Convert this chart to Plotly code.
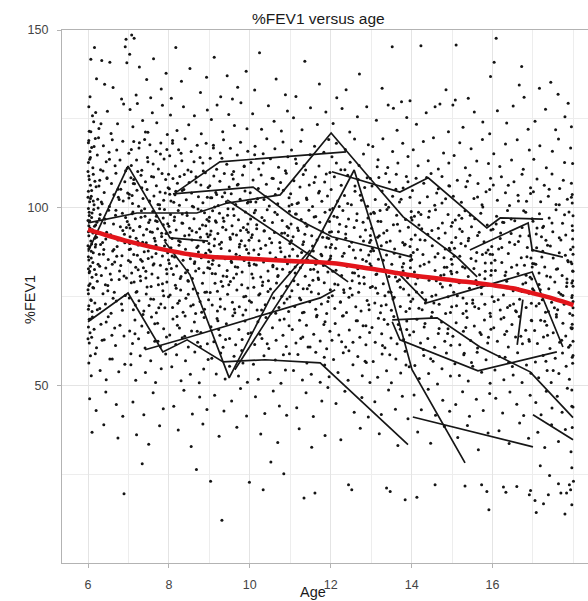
import plotly.graph_objects as go

# Clinic-visit %FEV1 observations (age in years, %FEV1), grouped by year of age
obs_06 = [
    (6.16,145.1),(6.94,147.4),(6.92,145.3),(6.07,141.8),(6.34,141.4),(6.54,140.9),(6.96,140.8),(6.21,136.3),
    (6.62,133.8),(6.05,131.2),(6.41,134.7),(6.83,130.6),
    (6.02,128.4),(6.11,125.9),(6.27,122.3),(6.48,127.1),(6.73,123.6),(6.88,129.2),(6.03,121.5),(6.19,126.8),
    (6.57,120.9),(6.14,124.2),
    (6.01,118.3),(6.04,113.6),(6.09,116.9),(6.12,111.2),(6.18,119.5),(6.23,114.8),(6.31,110.7),(6.38,117.4),
    (6.45,112.9),(6.52,115.6),(6.60,119.1),(6.67,111.8),(6.71,116.2),(6.79,113.4),(6.86,118.7),(6.93,110.4),(6.06,114.1),
    (6.01,104.6),(6.02,108.9),(6.04,101.7),(6.06,106.3),(6.08,103.2),(6.13,109.4),(6.15,100.8),(6.20,105.9),
    (6.24,102.4),(6.29,107.7),(6.35,101.1),(6.40,104.3),(6.47,108.2),(6.53,100.3),(6.58,106.8),(6.64,103.6),
    (6.69,109.7),(6.75,102.9),(6.81,105.2),(6.87,101.9),(6.91,107.3),(6.98,104.1),
    (6.00,96.4),(6.02,92.1),(6.03,98.7),(6.05,94.3),(6.07,90.6),(6.09,97.2),(6.11,93.8),(6.14,99.5),(6.17,91.4),
    (6.22,95.9),(6.26,92.7),(6.30,98.1),(6.36,90.2),(6.42,96.8),(6.46,93.1),(6.51,99.3),(6.56,91.9),(6.63,95.4),
    (6.68,97.9),(6.74,90.9),(6.80,94.6),(6.85,98.4),(6.90,92.5),(6.97,96.1),
    (6.01,86.2),(6.03,81.7),(6.04,88.9),(6.06,83.5),(6.08,85.8),(6.10,80.4),(6.13,87.3),(6.16,82.6),(6.19,89.6),
    (6.25,84.1),(6.28,86.9),(6.33,80.9),(6.39,88.2),(6.44,83.0),(6.50,85.4),(6.55,81.3),(6.61,87.8),(6.66,84.7),
    (6.72,89.1),(6.78,82.2),(6.84,86.5),(6.95,80.2),
    (6.00,76.9),(6.02,72.4),(6.05,78.6),(6.07,74.1),(6.10,70.8),(6.12,77.5),(6.17,73.2),(6.23,79.3),(6.29,71.6),
    (6.37,75.8),(6.43,72.9),(6.49,78.1),(6.57,70.3),(6.65,76.2),(6.70,73.7),(6.77,79.8),(6.85,71.1),(6.92,75.3),
    (6.01,66.4),(6.03,61.9),(6.06,68.7),(6.09,63.5),(6.15,65.8),(6.21,60.6),(6.32,67.2),(6.40,62.8),(6.50,69.3),
    (6.59,64.1),(6.68,61.2),(6.79,66.9),(6.89,63.9),
    (6.02,56.3),(6.08,52.7),(6.18,58.9),(6.30,54.2),(6.45,51.6),(6.60,57.4),(6.76,53.8),(6.91,55.9),
    (6.04,46.2),(6.20,42.9),(6.44,48.1),(6.70,44.6),(6.86,41.3),
    (6.10,36.8),(6.39,38.9),(6.74,35.2),(6.89,19.5),
    (6.00,110.2),(6.01,99.8),(6.00,89.3),(6.02,78.1),(6.01,71.4),(6.00,63.1),(6.02,118.9),(6.01,82.8),
    (6.00,102.9),(6.02,94.9),
    (6.03,97.8),(6.12,84.6),(6.27,106.1),(6.08,73.9),(6.44,91.2),(6.01,112.7),(6.19,95.1),(6.71,86.3),(6.05,64.8),
    (6.33,101.6),(6.58,79.7),(6.02,88.4),(6.15,117.2),(6.86,93.6),(6.11,69.2),(6.47,108.4),(6.04,82.1),(6.25,99.9),
    (6.62,74.5),(6.09,104.8),(6.38,86.9),(6.93,97.2),(6.06,58.3),(6.21,91.7),(6.53,113.6),(6.14,77.4),(6.77,102.3),
    (6.01,93.2),(6.29,83.5),(6.66,66.1),(6.07,121.4),(6.41,95.7),(6.18,88.9),(6.89,80.8),(6.03,107.9),(6.56,92.4),
    (6.23,71.3),(6.97,111.1),(6.10,98.5),(6.35,62.7),(6.02,85.3),(6.74,105.2),(6.16,94.8),(6.49,76.6),(6.05,115.8),
    (6.31,89.6),(6.83,72.9),(6.13,101.9),(6.60,84.1),(6.04,96.3),(6.26,119.7),(6.45,67.8),(6.08,87.7),(6.69,99.3),
    (6.20,81.2),(6.91,90.1),(6.01,75.8),(6.37,110.3),(6.12,92.9),(6.54,57.4),(6.06,102.6),(6.81,83.7),(6.28,96.9),
    (6.03,68.6),(6.64,88.2),(6.17,107.4),(6.43,78.3),(6.95,94.4),(6.09,89.8),(6.32,123.6),
]
obs_07 = [
    (7.08,148.6),(7.14,147.7),(7.03,143.2),(7.27,139.6),(7.45,136.1),(7.62,141.9),(7.81,133.4),(7.93,137.8),
    (7.19,131.7),(7.55,130.9),
    (7.04,127.6),(7.11,122.8),(7.22,129.3),(7.35,124.5),(7.48,121.2),(7.59,126.7),(7.70,123.9),(7.84,128.8),(7.96,120.6),
    (7.01,115.3),(7.07,111.9),(7.13,118.6),(7.20,113.4),(7.26,116.8),(7.33,110.5),(7.40,119.2),(7.47,114.1),
    (7.53,117.7),(7.61,112.3),(7.68,115.9),(7.74,110.9),(7.80,118.2),(7.88,113.7),(7.95,116.4),
    (7.02,103.8),(7.06,108.4),(7.10,101.2),(7.15,106.7),(7.21,104.9),(7.25,100.4),(7.31,109.1),(7.36,102.6),
    (7.42,107.3),(7.46,105.1),(7.52,101.8),(7.57,108.8),(7.63,103.3),(7.69,106.2),(7.73,100.9),(7.78,104.4),
    (7.83,109.6),(7.87,102.1),(7.92,107.9),(7.98,105.6),
    (7.01,95.2),(7.04,91.8),(7.09,98.3),(7.12,93.6),(7.17,96.9),(7.23,90.5),(7.28,94.7),(7.32,99.1),(7.37,92.3),
    (7.41,97.6),(7.44,90.1),(7.50,95.8),(7.54,93.2),(7.60,98.9),(7.64,91.4),(7.67,96.3),(7.72,94.1),(7.77,99.7),
    (7.82,92.8),(7.86,97.1),(7.91,90.8),(7.97,95.5),
    (7.00,85.1),(7.05,88.4),(7.08,81.6),(7.13,86.8),(7.18,83.2),(7.24,89.5),(7.29,80.7),(7.34,84.9),(7.39,87.6),
    (7.43,82.1),(7.49,85.7),(7.53,88.9),(7.58,81.3),(7.63,84.2),(7.68,87.1),(7.73,80.3),(7.79,83.8),(7.84,86.4),
    (7.89,89.2),(7.94,82.7),(7.99,85.3),
    (7.02,74.6),(7.07,78.9),(7.12,71.3),(7.19,76.2),(7.26,73.8),(7.30,79.4),(7.38,70.9),(7.44,75.7),(7.51,72.5),
    (7.56,77.8),(7.62,74.2),(7.69,70.4),(7.74,78.3),(7.80,72.9),(7.85,76.6),(7.90,71.8),(7.95,79.1),(7.99,74.9),
    (7.03,65.3),(7.10,61.8),(7.16,68.4),(7.25,63.1),(7.33,66.7),(7.41,60.5),(7.49,64.9),(7.57,69.2),(7.65,62.4),
    (7.72,67.5),(7.79,60.9),(7.87,65.9),(7.94,63.6),
    (7.06,55.8),(7.18,51.4),(7.29,58.3),(7.42,53.6),(7.55,56.9),(7.67,50.8),(7.81,54.7),(7.92,58.8),
    (7.11,45.3),(7.38,41.7),(7.61,47.9),(7.86,43.4),
    (7.20,36.1),(7.50,33.4),(7.77,38.6),(7.34,27.9),
    (7.04,94.3),(7.37,83.1),(7.12,106.8),(7.66,90.6),(7.21,76.4),(7.89,99.5),(7.02,88.2),(7.48,112.9),(7.31,97.3),
    (7.75,71.8),(7.09,103.4),(7.58,86.1),(7.16,64.5),(7.93,92.7),(7.43,80.2),(7.27,118.3),(7.71,96.1),(7.05,84.7),
    (7.52,101.9),(7.84,78.6),(7.19,91.4),(7.62,108.6),(7.36,69.9),(7.97,87.3),(7.11,98.8),(7.45,93.9),(7.79,115.1),
    (7.24,82.5),(7.55,74.3),(7.01,102.7),(7.68,89.4),(7.33,105.6),(7.86,95.2),(7.14,79.1),(7.49,87.8),(7.73,62.4),
    (7.28,94.6),(7.91,104.1),(7.07,116.4),(7.61,83.9),(7.40,99.7),(7.82,91.9),(7.17,72.6),(7.53,96.5),(7.95,81.4),
    (7.23,110.2),(7.65,67.3),(7.03,89.9),(7.46,77.7),(7.77,100.8),(7.30,85.4),(7.59,93.1),(7.13,107.9),(7.87,75.2),
    (7.42,121.3),(7.69,97.6),(7.06,58.9),(7.35,90.3),(7.99,109.4),(7.22,86.6),
]
obs_08 = [
    (8.17,145.1),(8.52,139.2),(8.31,135.6),(8.78,132.4),(8.06,130.8),(8.93,136.7),
    (8.04,126.1),(8.20,121.7),(8.36,128.4),(8.49,123.3),(8.63,125.9),(8.80,120.8),(8.95,127.5),
    (8.02,114.6),(8.09,118.9),(8.16,111.7),(8.24,116.3),(8.32,113.2),(8.40,119.4),(8.47,110.6),(8.55,115.8),
    (8.62,112.9),(8.70,117.6),(8.77,114.1),(8.85,110.3),(8.92,118.1),
    (8.01,105.3),(8.05,101.9),(8.10,108.2),(8.15,103.6),(8.21,106.9),(8.26,100.7),(8.33,104.8),(8.38,109.3),
    (8.43,102.2),(8.50,107.1),(8.56,104.1),(8.61,100.2),(8.67,108.7),(8.73,103.1),(8.79,106.4),(8.84,101.4),
    (8.90,109.8),(8.97,105.7),
    (8.00,94.8),(8.04,98.1),(8.08,91.3),(8.13,96.4),(8.18,93.7),(8.23,99.2),(8.28,90.4),(8.34,95.6),(8.39,92.1),
    (8.45,97.8),(8.51,94.2),(8.57,90.9),(8.62,96.9),(8.68,93.1),(8.72,99.6),(8.78,91.7),(8.83,95.1),(8.88,98.6),
    (8.94,92.6),(8.99,96.2),
    (8.01,84.3),(8.06,87.9),(8.11,81.2),(8.14,86.1),(8.19,83.6),(8.25,89.4),(8.30,80.6),(8.35,85.2),(8.41,88.3),
    (8.46,82.4),(8.52,86.7),(8.58,80.1),(8.64,84.8),(8.69,88.8),(8.74,82.9),(8.80,85.9),(8.86,81.7),(8.91,87.2),
    (8.96,83.1),(8.99,89.9),
    (8.03,75.4),(8.09,71.9),(8.16,78.2),(8.22,73.1),(8.29,76.8),(8.35,70.6),(8.42,74.5),(8.48,79.3),(8.54,72.3),
    (8.60,77.1),(8.66,70.2),(8.71,75.9),(8.77,73.6),(8.83,78.7),(8.88,71.4),(8.93,76.3),(8.98,74.1),
    (8.02,64.2),(8.10,68.7),(8.17,61.5),(8.26,66.1),(8.33,63.4),(8.40,69.5),(8.48,60.8),(8.56,65.3),(8.63,67.8),
    (8.71,62.1),(8.79,64.9),(8.87,69.1),(8.95,61.7),
    (8.07,55.2),(8.19,58.6),(8.30,51.3),(8.41,56.9),(8.53,53.1),(8.64,59.4),(8.75,50.7),(8.86,54.6),(8.97,57.3),
    (8.12,44.1),(8.37,48.6),(8.58,41.9),(8.76,46.7),(8.94,43.2),
    (8.23,37.4),(8.55,32.8),(8.84,39.1),(8.68,26.3),
    (8.03,93.1),(8.41,81.7),(8.17,104.6),(8.72,89.2),(8.26,73.8),(8.94,96.7),(8.08,86.4),(8.55,110.1),(8.33,98.2),
    (8.81,70.6),(8.12,101.5),(8.63,84.3),(8.21,66.9),(8.97,91.8),(8.47,79.5),(8.30,115.3),(8.76,94.1),(8.06,82.9),
    (8.58,100.4),(8.89,76.2),(8.24,90.7),(8.67,107.2),(8.39,63.8),(8.99,88.1),(8.14,97.4),(8.50,92.3),(8.84,112.6),
    (8.28,80.1),(8.60,72.7),(8.02,103.8),(8.73,87.5),(8.37,105.1),(8.91,94.9),(8.18,77.3),(8.53,85.6),(8.78,60.9),
    (8.32,95.7),(8.95,102.9),(8.09,118.1),(8.66,82.2),(8.44,98.6),(8.86,90.4),(8.20,69.4),(8.57,93.5),(8.98,84.8),
    (8.27,108.8),(8.70,65.2),(8.05,88.7),(8.48,75.6),(8.80,99.1),
]
obs_09 = [
    (9.12,142.3),(9.44,137.1),(9.70,133.9),(9.28,131.2),(9.91,138.4),(9.57,130.6),
    (9.05,124.8),(9.19,128.9),(9.33,121.4),(9.48,126.2),(9.62,123.1),(9.78,129.5),(9.93,122.2),
    (9.02,113.9),(9.10,117.6),(9.18,110.8),(9.27,115.4),(9.35,119.1),(9.43,112.2),(9.52,116.7),(9.60,110.2),
    (9.69,114.8),(9.77,118.4),(9.86,111.6),(9.95,115.9),
    (9.01,106.2),(9.06,102.8),(9.11,108.9),(9.16,104.3),(9.22,100.6),(9.26,107.4),(9.32,103.1),(9.37,109.6),
    (9.42,101.7),(9.49,105.8),(9.54,103.9),(9.59,108.1),(9.65,100.9),(9.71,106.6),(9.76,102.4),(9.82,109.2),
    (9.88,104.7),(9.94,101.3),
    (9.00,97.3),(9.04,93.4),(9.08,99.1),(9.13,91.2),(9.17,95.9),(9.21,92.7),(9.25,98.4),(9.30,90.3),(9.36,96.2),
    (9.41,93.8),(9.46,99.7),(9.51,91.6),(9.56,94.9),(9.61,97.8),(9.67,92.3),(9.72,96.6),(9.79,90.7),(9.84,94.4),
    (9.89,98.8),(9.96,93.1),
    (9.01,82.9),(9.03,87.6),(9.07,84.1),(9.12,89.3),(9.15,81.4),(9.20,86.2),(9.24,83.7),(9.29,88.5),(9.34,80.8),
    (9.39,85.6),(9.44,82.3),(9.50,87.9),(9.55,84.6),(9.60,80.2),(9.66,86.9),(9.70,83.2),(9.75,89.7),(9.81,81.9),
    (9.86,85.1),(9.92,88.2),(9.98,84.4),
    (9.02,76.1),(9.07,72.6),(9.14,78.7),(9.20,70.9),(9.27,74.3),(9.33,77.9),(9.38,71.5),(9.45,75.6),(9.52,79.2),
    (9.57,73.4),(9.63,70.4),(9.68,76.8),(9.74,72.1),(9.80,78.3),(9.85,74.9),(9.90,71.2),(9.95,77.4),(9.99,73.8),
    (9.04,66.5),(9.11,62.3),(9.19,68.8),(9.26,64.1),(9.34,60.7),(9.42,67.3),(9.50,63.2),(9.58,69.6),(9.65,61.4),
    (9.73,65.7),(9.81,62.9),(9.88,68.1),(9.96,64.6),
    (9.06,57.6),(9.17,53.2),(9.28,59.1),(9.39,51.8),(9.50,55.4),(9.61,58.2),(9.72,52.6),(9.83,56.3),(9.94,50.9),
    (9.13,47.2),(9.36,42.8),(9.55,45.6),(9.77,49.1),(9.92,41.4),
    (9.24,35.7),(9.68,38.2),(9.03,23.0),(9.99,22.7),(9.31,12.0),
    (9.02,92.4),(9.43,80.6),(9.18,103.7),(9.74,88.9),(9.27,72.1),(9.95,95.4),(9.09,85.2),(9.56,109.3),(9.34,97.1),
    (9.83,69.8),(9.13,100.2),(9.64,83.4),(9.23,65.7),(9.98,90.8),(9.48,78.3),(9.31,113.9),(9.77,93.6),(9.07,81.5),
    (9.59,99.6),(9.90,75.1),(9.25,89.7),(9.69,106.4),(9.40,62.9),(9.97,87.2),(9.15,96.3),(9.52,91.1),(9.86,111.7),
    (9.29,79.2),(9.62,71.4),(9.03,102.8),(9.75,86.3),(9.38,104.2),(9.92,93.8),(9.20,76.5),(9.54,84.9),(9.80,59.8),
    (9.33,94.5),(9.96,101.6),(9.10,116.8),(9.67,81.3),(9.45,97.9),(9.88,89.3),(9.21,68.2),(9.58,92.6),(9.99,83.7),
]
obs_10 = [
    (10.24,143.6),(10.65,136.2),(10.88,131.8),(10.12,133.1),
    (10.07,126.4),(10.29,122.1),(10.46,128.7),(10.60,124.3),(10.78,121.6),(10.93,127.2),
    (10.03,112.7),(10.13,117.3),(10.22,110.9),(10.33,115.2),(10.42,119.4),(10.51,113.8),(10.62,116.6),
    (10.71,111.4),(10.82,118.5),(10.94,114.3),
    (10.01,104.2),(10.08,107.8),(10.15,101.6),(10.21,105.4),(10.28,109.2),(10.35,102.3),(10.41,106.6),
    (10.48,100.5),(10.55,108.3),(10.63,103.7),(10.69,101.1),(10.76,107.1),(10.83,104.9),(10.90,109.7),(10.97,102.8),
    (10.02,96.8),(10.06,92.4),(10.11,98.6),(10.17,94.1),(10.23,90.7),(10.30,97.2),(10.36,93.5),(10.43,99.4),
    (10.49,91.3),(10.56,95.8),(10.61,93.0),(10.68,98.1),(10.74,90.2),(10.80,96.4),(10.86,92.9),(10.92,94.7),(10.98,99.0),
    (10.00,85.6),(10.05,81.3),(10.10,88.1),(10.16,83.9),(10.22,86.8),(10.27,80.5),(10.34,84.7),(10.39,89.4),
    (10.45,82.2),(10.50,87.3),(10.57,83.4),(10.64,85.9),(10.70,80.9),(10.75,88.7),(10.81,82.7),(10.87,86.1),
    (10.93,84.2),(10.99,81.8),
    (10.04,73.4),(10.10,77.6),(10.18,71.2),(10.25,75.8),(10.32,79.1),(10.38,72.7),(10.45,76.4),(10.52,70.3),
    (10.59,74.6),(10.66,78.8),(10.72,71.9),(10.79,75.1),(10.85,73.2),(10.91,77.9),(10.96,70.8),(10.99,74.9),
    (10.03,64.8),(10.12,61.5),(10.20,67.9),(10.30,63.2),(10.40,69.1),(10.47,60.4),(10.56,66.2),(10.65,62.7),
    (10.74,68.4),(10.82,64.1),(10.90,60.9),(10.97,66.8),
    (10.09,55.9),(10.21,51.7),(10.35,58.3),(10.50,53.6),(10.63,57.1),(10.77,50.6),(10.88,54.3),(10.98,58.9),
    (10.14,46.8),(10.37,42.1),(10.58,48.4),(10.73,44.2),(10.91,41.6),
    (10.27,36.3),(10.69,33.9),(10.33,20.6),(10.52,28.4),(10.84,25.1),
    (10.04,91.6),(10.46,79.4),(10.19,102.5),(10.77,87.6),(10.29,71.2),(10.96,94.3),(10.11,84.1),(10.58,108.2),
    (10.36,96.4),(10.85,68.7),(10.14,99.3),(10.67,82.8),(10.25,64.4),(10.99,89.9),(10.51,77.1),(10.33,112.6),
    (10.79,92.8),(10.08,80.2),(10.62,98.7),(10.92,74.3),(10.27,88.5),(10.71,105.3),(10.43,61.7),(10.98,86.4),
    (10.17,95.2),(10.54,90.1),(10.88,110.4),(10.31,78.1),(10.64,70.3),(10.02,101.7),(10.76,85.2),(10.40,103.1),
    (10.94,92.2),(10.22,75.4),(10.57,83.8),(10.83,58.6),(10.35,93.4),(10.97,100.5),(10.12,114.9),(10.69,80.6),
]
obs_11 = [
    (11.36,141.2),(11.72,134.8),(11.14,131.3),
    (11.08,125.3),(11.29,121.9),(11.50,128.1),(11.67,123.4),(11.88,126.9),
    (11.03,116.2),(11.15,112.4),(11.26,118.7),(11.38,110.6),(11.49,114.9),(11.60,117.3),(11.71,111.7),
    (11.83,115.6),(11.95,119.2),
    (11.01,103.9),(11.09,107.6),(11.17,101.2),(11.24,105.8),(11.32,109.3),(11.40,102.7),(11.47,106.4),
    (11.55,100.3),(11.62,108.6),(11.70,104.1),(11.78,101.8),(11.85,107.2),(11.92,103.3),(11.98,109.9),
    (11.02,95.4),(11.07,91.8),(11.13,98.2),(11.20,93.6),(11.27,96.7),(11.33,90.4),(11.41,94.8),(11.46,99.3),
    (11.53,92.1),(11.59,97.4),(11.66,90.9),(11.73,95.9),(11.80,93.2),(11.86,98.7),(11.91,91.5),(11.97,96.1),
    (11.00,84.8),(11.06,88.3),(11.12,81.6),(11.18,86.4),(11.25,83.1),(11.31,89.6),(11.37,80.7),(11.43,85.3),
    (11.50,82.6),(11.57,87.8),(11.63,84.1),(11.69,80.2),(11.76,86.9),(11.82,83.7),(11.88,88.9),(11.93,81.9),(11.99,85.7),
    (11.04,76.6),(11.11,72.2),(11.19,78.4),(11.26,74.1),(11.34,70.6),(11.42,77.2),(11.48,73.5),(11.56,79.6),
    (11.63,71.4),(11.70,75.8),(11.77,72.9),(11.84,78.9),(11.90,70.2),(11.95,74.7),(11.99,76.9),
    (11.05,65.7),(11.14,61.9),(11.23,68.3),(11.31,63.6),(11.40,66.9),(11.49,60.8),(11.58,64.4),(11.66,69.7),
    (11.74,62.5),(11.83,67.1),(11.90,60.3),(11.98,65.2),
    (11.08,54.2),(11.19,58.7),(11.30,51.5),(11.41,56.3),(11.52,53.1),(11.63,59.3),(11.74,50.9),(11.85,55.7),(11.96,52.4),
    (11.16,43.7),(11.39,47.9),(11.57,41.2),(11.78,45.6),(11.93,49.4),
    (11.22,37.8),(11.53,32.6),(11.86,35.9),(11.34,18.3),(11.61,19.7),
    (11.03,90.7),(11.47,78.2),(11.20,101.4),(11.78,86.5),(11.30,70.4),(11.97,93.1),(11.12,83.3),(11.59,107.1),
    (11.37,95.6),(11.86,67.9),(11.15,98.2),(11.68,81.9),(11.26,63.2),(11.99,88.8),(11.52,76.3),(11.34,111.8),
    (11.80,91.7),(11.09,79.4),(11.63,97.5),(11.93,73.6),(11.28,87.4),(11.72,104.6),(11.44,60.8),(11.96,85.1),
    (11.18,94.3),(11.55,89.2),(11.89,109.5),(11.32,77.2),(11.65,69.3),(11.04,100.9),(11.77,84.4),(11.41,102.3),
    (11.95,91.3),(11.23,74.6),(11.58,82.7),(11.84,57.9),(11.36,92.5),(11.98,99.4),(11.13,113.7),(11.70,79.8),
]
obs_12 = [
    (12.38,133.2),(12.71,137.6),(12.15,130.9),
    (12.06,123.7),(12.28,127.9),(12.47,121.3),(12.66,125.6),(12.89,128.4),
    (12.03,114.3),(12.14,118.1),(12.25,110.7),(12.36,116.4),(12.48,112.8),(12.59,119.3),(12.70,111.9),
    (12.81,115.1),(12.93,117.7),
    (12.01,105.1),(12.09,108.7),(12.17,101.9),(12.26,106.3),(12.34,103.4),(12.42,109.1),(12.51,100.8),
    (12.60,104.6),(12.68,107.9),(12.76,102.1),(12.84,105.7),(12.91,100.4),(12.98,108.2),
    (12.02,93.2),(12.08,97.6),(12.15,91.1),(12.22,95.3),(12.30,99.2),(12.37,92.6),(12.44,96.8),(12.52,90.3),
    (12.58,94.4),(12.65,98.3),(12.73,91.8),(12.80,95.9),(12.86,93.7),(12.92,97.1),(12.99,90.8),
    (12.00,86.4),(12.05,82.1),(12.12,88.6),(12.19,84.3),(12.27,80.9),(12.33,87.2),(12.40,83.5),(12.46,89.1),
    (12.54,81.7),(12.61,85.8),(12.67,82.8),(12.74,88.1),(12.82,80.4),(12.88,84.9),(12.94,86.7),(12.99,83.2),
    (12.04,75.2),(12.10,71.6),(12.18,78.3),(12.24,73.4),(12.32,76.9),(12.39,70.5),(12.45,74.8),(12.53,79.4),
    (12.62,72.1),(12.69,76.2),(12.75,70.9),(12.83,78.6),(12.90,73.9),(12.95,71.3),(12.98,77.5),
    (12.03,62.7),(12.11,67.4),(12.20,64.2),(12.29,69.5),(12.37,60.8),(12.46,65.6),(12.55,62.1),(12.63,68.2),
    (12.72,63.5),(12.80,66.8),(12.87,61.4),(12.96,64.9),
    (12.07,57.3),(12.18,53.6),(12.31,59.2),(12.43,51.4),(12.55,55.8),(12.67,58.1),(12.78,52.7),(12.88,56.4),(12.97,50.8),
    (12.13,44.9),(12.35,48.3),(12.58,42.4),(12.77,46.6),(12.93,41.1),
    (12.25,34.7),(12.73,37.9),(12.44,22.0),(12.52,20.6),
    (12.02,89.6),(12.48,77.3),(12.21,100.3),(12.79,85.4),(12.31,69.6),(12.98,92.2),(12.13,82.4),(12.60,106.1),
    (12.38,94.7),(12.87,66.8),(12.16,97.3),(12.69,80.8),(12.27,62.3),(12.99,87.7),(12.53,75.4),(12.35,110.7),
    (12.81,90.6),(12.10,78.5),(12.64,96.4),(12.94,72.7),(12.29,86.3),(12.73,103.5),(12.45,59.7),(12.97,84.2),
    (12.19,93.2),(12.56,88.1),(12.90,108.4),(12.33,76.1),(12.66,68.2),(12.05,99.8),(12.78,83.3),(12.42,101.2),
    (12.96,90.2),(12.24,73.5),(12.59,81.6),(12.85,56.8),(12.37,91.4),(12.99,98.3),(12.14,112.6),(12.71,78.7),
]
obs_13 = [
    (13.52,145.3),(13.27,133.6),
    (13.42,128.9),(13.55,128.0),(13.75,129.8),(13.96,130.1),(13.13,124.6),(13.64,121.8),(13.88,125.4),
    (13.04,117.2),(13.17,113.5),(13.29,119.4),(13.41,111.3),(13.53,115.8),(13.66,112.6),(13.78,118.1),(13.91,114.4),
    (13.02,106.1),(13.10,102.3),(13.19,108.5),(13.27,104.7),(13.36,100.9),(13.45,107.2),(13.53,103.2),
    (13.62,109.4),(13.70,101.6),(13.79,105.5),(13.87,108.8),(13.96,102.9),
    (13.01,94.2),(13.08,98.4),(13.16,91.7),(13.24,96.1),(13.31,92.9),(13.39,99.5),(13.47,90.6),(13.55,95.2),
    (13.63,97.9),(13.71,93.4),(13.78,90.2),(13.85,96.7),(13.92,94.5),(13.99,98.9),
    (13.00,83.6),(13.06,87.9),(13.12,81.2),(13.18,85.5),(13.25,89.3),(13.32,82.4),(13.38,86.7),(13.44,80.6),
    (13.51,84.1),(13.58,88.4),(13.64,81.8),(13.71,86.2),(13.77,83.3),(13.84,89.7),(13.90,80.3),(13.97,85.1),
    (13.03,77.8),(13.09,73.2),(13.16,75.9),(13.23,70.4),(13.30,78.6),(13.37,72.7),(13.43,76.3),(13.50,71.1),
    (13.57,74.8),(13.65,79.3),(13.72,72.2),(13.80,77.1),(13.86,70.8),(13.93,75.4),(13.98,73.6),
    (13.02,66.3),(13.10,62.1),(13.18,68.9),(13.26,64.5),(13.34,60.6),(13.41,67.2),(13.49,63.3),(13.56,69.4),
    (13.64,61.7),(13.72,65.8),(13.80,62.9),(13.88,68.1),(13.95,64.2),
    (13.05,56.7),(13.16,52.3),(13.27,58.8),(13.38,54.1),(13.50,50.7),(13.61,57.4),(13.73,53.5),(13.84,59.6),(13.94,55.2),
    (13.09,45.4),(13.25,41.8),(13.43,48.7),(13.60,43.3),(13.77,46.9),(13.91,40.6),
    (13.20,36.4),(13.66,33.1),(13.38,21.1),(13.47,20.1),(13.84,17.8),
    (13.03,88.5),(13.49,76.2),(13.22,99.2),(13.80,84.3),(13.32,68.5),(13.99,91.1),(13.14,81.3),(13.61,105.2),
    (13.39,93.6),(13.88,65.7),(13.17,96.2),(13.70,79.7),(13.28,61.2),(13.98,86.6),(13.54,74.3),(13.36,109.6),
    (13.82,89.5),(13.11,77.4),(13.65,95.3),(13.95,71.6),(13.30,85.2),(13.74,102.4),(13.46,58.6),(13.97,83.1),
    (13.20,92.1),(13.57,87.2),(13.91,107.3),(13.34,75.2),(13.67,67.1),(13.06,98.7),(13.79,82.2),(13.43,100.1),
    (13.96,89.1),(13.25,72.4),(13.60,80.5),(13.86,55.7),(13.38,90.3),(13.99,97.2),(13.15,111.5),(13.72,77.6),
]
obs_14 = [
    (14.23,145.6),(14.85,133.2),
    (14.58,128.4),(14.70,129.2),(14.12,123.5),(14.36,126.7),(14.91,121.4),
    (14.04,116.3),(14.16,111.8),(14.29,118.6),(14.41,113.2),(14.54,119.7),(14.66,110.9),(14.79,115.4),(14.92,112.6),
    (14.02,104.8),(14.11,108.3),(14.20,101.4),(14.30,106.9),(14.39,103.1),(14.48,109.6),(14.57,100.7),
    (14.66,105.3),(14.75,108.8),(14.84,102.5),(14.94,106.1),
    (14.01,96.5),(14.09,92.3),(14.17,98.7),(14.25,94.1),(14.33,90.8),(14.42,97.3),(14.50,93.6),(14.59,99.4),
    (14.67,91.4),(14.76,95.7),(14.83,92.9),(14.90,98.1),(14.98,94.8),
    (14.00,85.4),(14.07,81.9),(14.14,88.2),(14.21,83.6),(14.28,86.8),(14.35,80.5),(14.43,84.7),(14.51,89.3),
    (14.58,82.3),(14.65,87.1),(14.72,80.9),(14.80,85.9),(14.87,83.2),(14.93,88.6),(14.99,81.4),
    (14.03,74.3),(14.10,78.5),(14.18,71.7),(14.26,76.1),(14.34,73.2),(14.43,79.6),(14.51,70.6),(14.60,75.4),
    (14.68,72.8),(14.76,77.7),(14.84,70.2),(14.90,74.9),(14.96,78.2),(14.99,72.1),
    (14.05,65.1),(14.13,68.6),(14.22,61.9),(14.31,66.4),(14.40,63.2),(14.49,69.3),(14.57,60.7),(14.66,64.6),
    (14.74,67.8),(14.82,62.4),(14.90,65.9),(14.97,61.3),
    (14.08,55.6),(14.19,51.9),(14.30,58.4),(14.42,53.3),(14.53,56.8),(14.64,50.4),(14.75,54.7),(14.86,59.1),(14.96,52.6),
    (14.06,47.3),(14.24,43.1),(14.41,48.9),(14.59,41.6),(14.77,45.8),(14.94,42.7),
    (14.15,36.9),(14.47,33.7),(14.81,38.4),(14.58,22.0),(14.13,18.5),
    (14.04,87.4),(14.50,75.1),(14.23,98.1),(14.81,83.2),(14.33,67.4),(14.99,90.2),(14.15,80.2),(14.62,104.1),
    (14.40,92.5),(14.89,64.6),(14.18,95.1),(14.71,78.6),(14.29,60.1),(14.98,85.5),(14.55,73.2),(14.37,108.5),
    (14.83,88.4),(14.12,76.3),(14.66,94.2),(14.96,70.5),(14.31,84.1),(14.75,101.3),(14.47,57.5),(14.97,82.1),
    (14.21,91.0),(14.58,86.1),(14.92,106.2),(14.35,74.1),(14.68,66.0),(14.07,97.6),(14.80,81.1),(14.44,99.0),
    (14.95,88.0),(14.26,71.3),(14.61,79.4),
]
obs_15 = [
    (15.10,145.8),(15.40,130.8),(15.08,130.3),(15.95,136.9),
    (15.02,128.9),(15.55,126.9),(15.27,122.6),(15.76,124.1),(15.93,120.8),
    (15.05,114.7),(15.19,118.3),(15.33,111.2),(15.47,116.6),(15.61,113.1),(15.75,119.2),(15.90,112.4),
    (15.03,103.2),(15.13,107.7),(15.23,101.5),(15.34,105.9),(15.44,109.1),(15.54,102.6),(15.64,106.8),
    (15.74,100.8),(15.84,104.5),(15.95,108.3),
    (15.01,95.8),(15.09,91.6),(15.17,97.9),(15.25,93.3),(15.32,99.1),(15.40,90.7),(15.48,94.6),(15.56,96.9),
    (15.63,92.2),(15.71,98.4),(15.79,90.4),(15.87,95.1),(15.96,93.7),
    (15.00,84.1),(15.06,88.6),(15.12,81.8),(15.19,86.3),(15.26,83.4),(15.33,89.2),(15.40,80.6),(15.47,85.7),
    (15.54,82.9),(15.61,87.4),(15.68,81.1),(15.75,86.8),(15.82,84.4),(15.89,88.1),(15.97,82.3),
    (15.04,76.2),(15.11,72.4),(15.18,78.9),(15.27,74.6),(15.35,70.9),(15.43,77.3),(15.51,73.1),(15.59,79.5),
    (15.66,71.6),(15.73,75.7),(15.81,72.8),(15.88,78.2),(15.94,70.3),(15.99,74.9),
    (15.02,63.8),(15.10,67.6),(15.19,61.4),(15.28,65.2),(15.37,69.1),(15.46,62.6),(15.55,66.7),(15.63,60.5),
    (15.72,64.3),(15.80,68.4),(15.88,61.9),(15.96,65.8),
    (15.07,56.1),(15.18,52.8),(15.29,58.6),(15.40,51.2),(15.51,55.4),(15.62,59.3),(15.73,53.7),(15.84,57.2),(15.94,50.6),
    (15.09,44.6),(15.26,48.2),(15.43,41.3),(15.60,46.1),(15.77,42.9),(15.93,47.7),
    (15.14,35.3),(15.38,38.7),(15.65,31.9),(15.89,36.6),
    (15.32,21.7),(15.73,22.0),(15.86,20.1),(15.91,15.0),
    (15.05,86.3),(15.51,74.0),(15.24,97.0),(15.82,82.1),(15.34,66.3),(15.98,89.1),(15.16,79.1),(15.63,103.0),
    (15.41,91.4),(15.90,63.5),(15.19,94.0),(15.72,77.5),(15.30,59.0),(15.97,84.4),(15.56,72.1),(15.38,107.4),
    (15.84,87.3),(15.13,75.2),(15.67,93.1),(15.95,69.4),(15.32,83.0),(15.76,100.2),(15.48,56.4),(15.96,81.0),
    (15.22,89.9),(15.59,85.0),(15.93,105.1),(15.36,73.0),(15.69,64.9),(15.08,96.5),(15.81,80.0),(15.45,97.9),
    (15.94,86.9),(15.27,70.2),(15.62,78.3),
]
obs_16 = [
    (16.09,147.7),(16.04,140.9),(16.72,139.7),(16.66,134.5),(16.78,131.1),
    (16.12,127.3),(16.35,123.8),(16.51,128.6),(16.88,122.1),
    (16.03,115.2),(16.18,111.6),(16.32,117.9),(16.47,113.4),(16.61,119.1),(16.76,110.8),(16.91,116.2),
    (16.02,106.4),(16.12,102.1),(16.22,108.7),(16.32,104.2),(16.42,100.6),(16.53,107.3),(16.63,103.5),
    (16.73,109.4),(16.84,101.8),(16.94,105.6),
    (16.01,93.9),(16.10,97.6),(16.19,91.3),(16.28,95.8),(16.37,99.2),(16.46,92.7),(16.55,96.3),(16.64,90.5),
    (16.73,94.4),(16.82,98.7),(16.90,92.1),(16.98,96.9),
    (16.00,86.8),(16.07,82.3),(16.15,88.4),(16.23,84.6),(16.31,80.9),(16.39,87.1),(16.47,83.2),(16.55,89.6),
    (16.63,81.5),(16.71,85.9),(16.79,83.8),(16.86,88.8),(16.93,80.4),(16.99,84.3),
    (16.04,73.6),(16.11,77.8),(16.19,71.2),(16.27,75.4),(16.35,79.3),(16.43,72.5),(16.51,76.6),(16.59,70.7),
    (16.67,74.2),(16.75,78.5),(16.83,71.9),(16.90,75.9),(16.96,73.1),(16.99,77.2),
    (16.03,66.2),(16.12,62.4),(16.21,68.7),(16.30,64.3),(16.39,60.8),(16.48,67.1),(16.57,63.6),(16.66,69.4),
    (16.74,61.7),(16.82,65.5),(16.90,62.9),(16.97,68.2),
    (16.06,54.3),(16.17,58.1),(16.28,51.6),(16.40,56.4),(16.51,52.9),(16.62,59.2),(16.73,50.8),(16.84,55.7),(16.95,53.4),
    (16.08,46.4),(16.25,42.2),(16.43,48.1),(16.60,44.7),(16.77,41.5),(16.93,47.2),
    (16.16,37.2),(16.41,33.6),(16.67,39.4),(16.89,35.1),
    (16.27,21.4),(16.33,19.9),(16.60,21.5),(16.91,19.2),(16.94,20.4),
    (16.06,85.2),(16.52,72.9),(16.25,95.9),(16.83,81.0),(16.35,65.2),(16.99,88.0),(16.17,78.0),(16.64,101.9),
    (16.42,90.3),(16.91,62.4),(16.20,92.9),(16.73,76.4),(16.31,57.9),(16.98,83.3),(16.57,71.0),(16.39,106.3),
    (16.85,86.2),(16.14,74.1),(16.68,92.0),(16.96,68.3),(16.33,81.9),(16.77,99.1),(16.49,55.3),(16.97,79.9),
    (16.23,88.8),(16.60,83.9),(16.94,104.0),(16.37,71.9),(16.70,63.8),(16.09,95.4),(16.82,78.9),(16.46,96.8),
    (16.95,85.8),(16.28,69.1),(16.63,77.2),
]
obs_17 = [
    (17.16,133.6),(17.44,135.3),(17.87,129.4),(17.62,131.9),
    (17.05,124.3),(17.31,127.7),(17.56,121.9),(17.79,125.6),(17.95,122.8),
    (17.02,113.6),(17.17,117.4),(17.33,111.2),(17.48,115.9),(17.63,119.3),(17.78,112.7),(17.93,116.8),
    (17.01,104.5),(17.10,108.1),(17.19,101.7),(17.28,106.3),(17.38,103.2),(17.47,109.5),(17.57,100.9),
    (17.66,105.4),(17.75,107.7),(17.85,102.4),(17.95,106.9),
    (17.00,96.2),(17.08,92.6),(17.16,98.3),(17.24,94.4),(17.32,90.8),(17.40,97.1),(17.49,93.2),(17.57,99.4),
    (17.65,91.5),(17.73,95.6),(17.81,92.3),(17.89,98.8),(17.97,94.9),
    (17.03,84.2),(17.09,88.7),(17.15,81.6),(17.22,86.1),(17.29,83.3),(17.36,89.4),(17.43,80.5),(17.50,85.8),
    (17.58,82.7),(17.65,87.3),(17.72,80.9),(17.80,86.6),(17.87,84.8),(17.93,88.2),(17.99,82.1),
    (17.02,76.7),(17.08,72.3),(17.15,78.4),(17.23,74.1),(17.31,70.6),(17.39,77.2),(17.46,73.4),(17.54,79.1),
    (17.61,71.3),(17.69,75.6),(17.77,72.8),(17.84,78.9),(17.91,70.2),(17.96,74.7),(17.99,77.9),
    (17.04,65.4),(17.11,61.8),(17.19,68.3),(17.26,63.6),(17.34,66.9),(17.42,60.4),(17.50,64.8),(17.58,69.2),
    (17.66,62.1),(17.74,67.5),(17.81,63.9),(17.88,60.7),(17.94,66.2),(17.98,69.7),
    (17.06,56.6),(17.14,52.1),(17.25,58.4),(17.35,54.2),(17.45,50.8),(17.55,57.6),(17.64,53.3),(17.73,59.1),
    (17.82,55.4),(17.90,51.7),(17.97,57.9),
    (17.07,45.2),(17.20,41.7),(17.33,48.3),(17.47,43.6),(17.60,46.9),(17.72,42.4),(17.85,49.2),(17.96,44.1),
    (17.12,36.8),(17.29,32.5),(17.46,38.9),(17.63,34.2),(17.80,37.6),(17.94,31.3),
    (17.18,27.4),(17.41,24.6),(17.63,22.3),(17.90,22.0),(17.96,26.8),(18.00,23.0),
    (17.05,17.6),(17.08,14.2),(17.26,16.7),(17.38,19.2),(17.69,19.7),(17.79,13.8),(17.83,19.7),(17.93,20.6),(17.96,16.4),
    (17.97,101.3),(17.98,93.6),(17.99,88.9),(17.96,84.2),(17.98,79.4),(17.99,71.8),(17.97,66.1),(17.99,62.4),
    (17.98,56.2),(17.96,48.7),(17.99,43.9),(17.97,38.1),(17.98,112.4),(17.99,97.7),(17.97,75.3),
    (17.07,84.1),(17.53,71.8),(17.26,94.8),(17.84,79.9),(17.36,64.1),(17.99,86.9),(17.18,76.9),(17.65,100.8),
    (17.43,89.2),(17.92,61.3),(17.21,91.8),(17.74,75.3),(17.32,56.8),(17.98,82.2),(17.58,69.9),(17.40,105.2),
    (17.86,85.1),(17.15,73.0),(17.69,90.9),(17.97,67.2),(17.34,80.8),(17.78,98.0),(17.50,54.2),(17.96,78.8),
    (17.24,87.7),(17.61,82.8),(17.95,102.9),(17.38,70.8),(17.71,62.7),(17.10,94.3),(17.83,77.8),(17.47,95.7),
    (17.94,84.7),(17.29,68.0),(17.64,76.1),(17.99,58.4),(17.98,91.2),(17.97,103.7),(17.99,73.6),(17.96,65.9),
]

# Follow-up of a sample of individual patients: visits as (age, %FEV1)
trajectories = [
    [(6.00,87.6),(6.99,111.7),(8.03,91.5),(8.97,90.6)],
    [(6.00,95.7),(7.21,98.5),(8.69,98.5),(9.44,101.3),(10.75,103.6),(12.01,121.0),(13.17,105.6),
     (13.79,97.4),(15.12,86.1),(15.62,80.5)],
    [(8.15,104.1),(9.26,112.9),(12.38,115.7)],
    [(8.10,103.9),(10.08,105.8),(11.07,97.4),(12.03,91.8),(14.01,86.1)],
    [(9.63,54.4),(11.54,88.1),(12.58,110.6),(13.27,85.3),(14.01,54.4),(15.32,28.2)],
    [(12.03,110.1),(13.71,104.4),(14.41,108.4),(15.86,94.3),(16.19,97.1),(17.25,96.8)],
    [(6.00,67.9),(6.99,76.0),(7.85,59.4),(8.45,62.8),(9.34,56.6),(10.38,57.2),(11.74,56.3),(13.91,33.3)],
    [(7.41,60.0),(8.45,63.4),(11.74,74.6),(12.11,76.9)],
    [(7.90,90.4),(8.52,81.1),(9.49,52.1),(10.57,76.0),(11.49,88.1)],
    [(15.44,88.1),(16.88,95.7),(16.98,88.1),(17.74,86.1)],
    [(13.71,81.1),(14.38,73.2),(16.98,81.9),(17.74,60.8)],
    [(16.61,61.4),(16.75,74.1)],
    [(13.52,68.4),(14.63,69.0),(15.69,60.8),(16.93,53.8),(17.99,40.9)],
    [(13.52,67.9),(13.71,62.8),(15.64,54.1),(16.68,56.9),(17.59,59.4)],
    [(14.03,41.1),(17.00,32.7)],
    [(17.00,41.7),(17.99,34.7)],
    [(9.44,102.2),(11.74,84.7),(12.43,79.1)],
]

# Smoothed population trend of %FEV1 by age
trend_age = [6.0, 6.5, 7.0, 7.5, 8.0, 8.5, 9.0, 9.5, 10.0, 11.0, 12.0, 13.0, 14.0, 15.0, 16.0, 16.5, 17.0, 17.5, 18.0]
trend_fev = [93.8, 92.1, 90.5, 89.1, 87.9, 86.9, 86.2, 85.9, 85.6, 85.0, 84.4, 82.8, 81.0, 79.6, 78.2, 77.3, 75.9, 74.4, 72.6]

x_ticks = [6, 8, 10, 12, 14, 16]
x_minor = [7, 9, 11, 13, 15, 17, 18]
y_ticks = [50, 100, 150]
y_minor = [25, 75, 125]

all_obs = (obs_06 + obs_07 + obs_08 + obs_09 + obs_10 + obs_11 +
           obs_12 + obs_13 + obs_14 + obs_15 + obs_16 + obs_17)

fig = go.Figure()

fig.add_trace(go.Scatter(
    x=[a for a, _ in all_obs], y=[f for _, f in all_obs],
    mode="markers", marker=dict(size=3.0, color="#141414", line=dict(width=0)),
    hoverinfo="skip", showlegend=False,
))

for visits in trajectories:
    fig.add_trace(go.Scatter(
        x=[a for a, _ in visits], y=[f for _, f in visits],
        mode="lines", line=dict(color="#161616", width=1.7),
        hoverinfo="skip", showlegend=False,
    ))

fig.add_trace(go.Scatter(
    x=trend_age, y=trend_fev, mode="lines",
    line=dict(color="#e3151b", width=4.5, shape="spline", smoothing=1.0),
    hoverinfo="skip", showlegend=False,
))

W, H = 588, 601
L, R, T, B = 62, 0, 30, 38
pw, ph = W - L - R, H - T - B

fig.update_layout(
    width=W, height=H,
    margin=dict(l=L, r=R, t=T, b=B),
    paper_bgcolor="white", plot_bgcolor="white",
    font=dict(family="Liberation Sans, Arial, sans-serif", color="#4d4d4d"),
    xaxis=dict(
        range=[5.357, 18.36], tickvals=x_ticks, ticktext=[str(v) for v in x_ticks],
        showgrid=True, gridcolor="#e4e4e4", gridwidth=0.7,
        minor=dict(tickvals=x_minor, showgrid=True, gridcolor="#ededed", gridwidth=0.5, ticks=""),
        showline=True, linecolor="#b3b3b3", linewidth=1.2, mirror=True,
        ticks="outside", ticklen=4, tickcolor="#b3b3b3", tickwidth=1,
        ticklabelstandoff=6,
        tickfont=dict(size=12.5, color="#444444"),
        zeroline=False,
    ),
    yaxis=dict(
        range=[0, 150], tickvals=y_ticks, ticktext=[str(v) for v in y_ticks],
        showgrid=True, gridcolor="#e4e4e4", gridwidth=0.7,
        minor=dict(tickvals=y_minor, showgrid=True, gridcolor="#ededed", gridwidth=0.5, ticks=""),
        showline=True, linecolor="#b3b3b3", linewidth=1.2, mirror=False,
        ticks="outside", ticklen=4, tickcolor="#b3b3b3", tickwidth=1,
        ticklabelstandoff=6,
        tickfont=dict(size=12.5, color="#444444"),
        zeroline=False,
    ),
    annotations=[
        dict(text="%FEV1 versus age", xref="paper", yref="paper",
             x=(318 - L) / pw, y=(H - B - 18) / ph, xanchor="center", yanchor="middle",
             showarrow=False, font=dict(size=15.5, color="#1a1a1a")),
        dict(text="%FEV1", xref="paper", yref="paper", textangle=-90,
             x=(30 - L) / pw, y=(H - B - 300) / ph, xanchor="center", yanchor="middle",
             showarrow=False, font=dict(size=14.5, color="#1a1a1a")),
        dict(text="Age", xref="paper", yref="paper",
             x=(313 - L) / pw, y=(H - B - 592) / ph, xanchor="center", yanchor="middle",
             showarrow=False, font=dict(size=14.5, color="#1a1a1a")),
    ],
)

fig.write_html("out.html")
